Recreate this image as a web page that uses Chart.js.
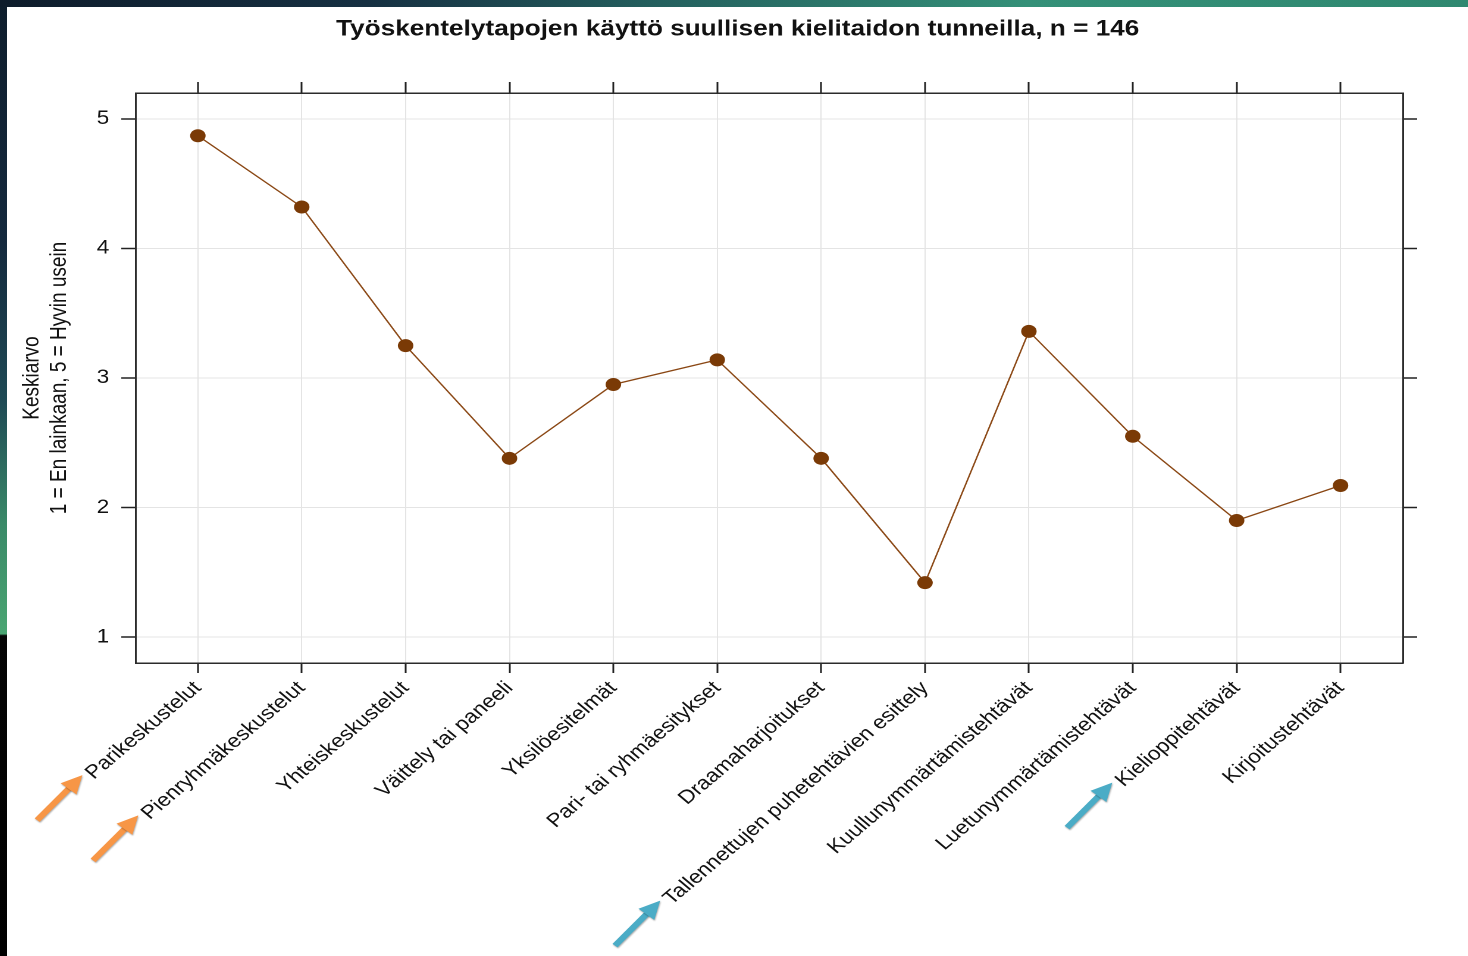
<!DOCTYPE html>
<html>
<head>
<meta charset="utf-8">
<script src="https://cdn.jsdelivr.net/npm/chart.js@4.4.1/dist/chart.umd.min.js"></script>
<style>
  body { margin: 0; width: 1468px; height: 956px; background: #000; position: relative; overflow: hidden; }
  .edge-left { position: absolute; left: 0; top: 0; width: 7px; height: 956px;
    background: linear-gradient(to bottom, #0e1d2c 0%, #14293d 25%, #1f4a55 42%, #3a8a68 55%, #4aa572 66.3%, #050505 66.5%, #000 100%); }
  .edge-top { position: absolute; left: 0; top: 0; width: 1468px; height: 7px;
    background: linear-gradient(to right, #0e1c2b 0%, #163042 25%, #24605e 45%, #349078 70%, #2f8870 100%); }
  .sheet { position: absolute; left: 7px; top: 7px; width: 1461px; height: 949px; background: #fff; overflow: hidden; }
  #chart { transform: scaleX(1.19); transform-origin: 0 0; }
</style>
</head>
<body>
<div class="edge-left"></div>
<div class="edge-top"></div>
<div class="sheet">
  <canvas id="chart" width="1228" height="949"></canvas>
</div>
<script>
// data
const categories = [
  'Parikeskustelut',
  'Pienryhmäkeskustelut',
  'Yhteiskeskustelut',
  'Väittely tai paneeli',
  'Yksilöesitelmät',
  'Pari- tai ryhmäesitykset',
  'Draamaharjoitukset',
  'Tallennettujen puhetehtävien esittely',
  'Kuullunymmärtämistehtävät',
  'Luetunymmärtämistehtävät',
  'Kielioppitehtävät',
  'Kirjoitustehtävät'
];
const means = [4.87, 4.32, 3.25, 2.38, 2.95, 3.14, 2.38, 1.42, 3.36, 2.55, 1.90, 2.17];
const yTicks = [1, 2, 3, 4, 5];
// labels that get an arrow in the picture, with its colour
const arrowIdx = [0, 1, 7, 10];
const arrowColors = ['#f79646', '#f79646', '#4bacc6', '#4bacc6'];

const titleText = 'Työskentelytapojen käyttö suullisen kielitaidon tunneilla, n = 146';
const yTitle = ['Keskiarvo', '1 = En lainkaan, 5 = Hyvin usein'];

Chart.defaults.font.family = '"Liberation Sans", Arial, Helvetica, sans-serif';

const xTickList = s => { s.ticks = categories.map((c, i) => ({ value: i + 1 })); };
const yTickList = s => { s.ticks = yTicks.map(v => ({ value: v })); };
const boxBorder = { color: '#2b2b2b', width: 1.5 };
const gridCol = '#e4e4e4';

const labelArrows = {
  id: 'labelArrows',
  afterDraw(chart) {
    const ctx = chart.ctx;
    const xs = chart.scales.x;
    const tickLen = xs.options.grid.tickLength;
    const pad = xs.options.ticks.padding;
    ctx.save();
    ctx.font = '19px "Liberation Sans", Arial, sans-serif';
    const c = Math.SQRT1_2;
    arrowIdx.forEach((idx, k) => {
      const w = ctx.measureText(categories[idx]).width;
      const px = xs.getPixelForValue(idx + 1) + 19 * 1.2 / 2 * c;
      const py = xs.top + tickLen + pad;
      // start of the rotated label
      const sx = px - w * c;
      const sy = py + w * c;
      const tipX = sx - 14, tipY = sy + 7;
      const tailX = tipX - 38, tailY = tipY + 45;
      const ang = Math.atan2(tipY - tailY, tipX - tailX);
      ctx.shadowColor = 'rgba(0,0,0,0.35)';
      ctx.shadowBlur = 3;
      ctx.shadowOffsetX = 1;
      ctx.shadowOffsetY = 2;
      ctx.strokeStyle = arrowColors[k];
      ctx.fillStyle = arrowColors[k];
      ctx.lineWidth = 5.5;
      ctx.beginPath();
      ctx.moveTo(tailX, tailY);
      ctx.lineTo(tipX - 12 * Math.cos(ang), tipY - 12 * Math.sin(ang));
      ctx.stroke();
      ctx.beginPath();
      ctx.moveTo(tipX, tipY);
      ctx.lineTo(tipX - 20 * Math.cos(ang - 0.45), tipY - 20 * Math.sin(ang - 0.45));
      ctx.lineTo(tipX - 20 * Math.cos(ang + 0.45), tipY - 20 * Math.sin(ang + 0.45));
      ctx.closePath();
      ctx.fill();
    });
    ctx.restore();
  }
};

new Chart(document.getElementById('chart'), {
  type: 'line',
  data: {
    datasets: [{
      data: means.map((v, i) => ({ x: i + 1, y: v })),
      borderColor: '#8a4714',
      borderWidth: 1.3,
      pointRadius: 6.5,
      pointBackgroundColor: '#7a3a06',
      pointBorderColor: '#7a3a06',
      pointBorderWidth: 0,
      tension: 0
    }]
  },
  options: {
    responsive: false,
    devicePixelRatio: 2,
    animation: false,
    layout: { padding: 0 },
    plugins: {
      legend: { display: false },
      tooltip: { enabled: false },
      title: {
        display: true,
        text: titleText,
        color: '#111',
        font: { size: 22, weight: 'bold' },
        padding: { top: 9, bottom: 0 }
      }
    },
    scales: {
      x: {
        type: 'linear', position: 'bottom', min: 0.4, max: 12.6,
        afterBuildTicks: xTickList,
        afterFit: s => { s.height = 293; },
        ticks: {
          autoSkip: false, minRotation: 45, maxRotation: 45, padding: 4,
          color: '#111', font: { size: 19 },
          callback: (v, i) => categories[i]
        },
        grid: { color: gridCol, lineWidth: 1, tickColor: '#222', tickWidth: 1.5, tickLength: 10 },
        border: boxBorder
      },
      x2: {
        type: 'linear', axis: 'x', position: 'top', min: 0.4, max: 12.6,
        afterBuildTicks: xTickList,
        afterFit: s => { s.height = 50.6; },
        ticks: { display: false },
        grid: { drawOnChartArea: false, tickColor: '#222', tickWidth: 1.5, tickLength: 11 },
        border: boxBorder
      },
      y: {
        type: 'linear', position: 'left', min: 0.8, max: 5.2,
        afterBuildTicks: yTickList,
        afterFit: s => { s.width = 108; },
        ticks: { padding: 10, color: '#111', font: { size: 19 } },
        grid: { color: gridCol, lineWidth: 1, tickColor: '#222', tickWidth: 1.5, tickLength: 12 },
        border: boxBorder,
        title: {
          display: true, text: yTitle, color: '#111',
          font: { size: 19 }, padding: { top: 10, bottom: 0 }
        }
      },
      y2: {
        type: 'linear', axis: 'y', position: 'right', min: 0.8, max: 5.2,
        afterBuildTicks: yTickList,
        afterFit: s => { s.width = 55; },
        ticks: { display: false },
        grid: { drawOnChartArea: false, tickColor: '#222', tickWidth: 1.5, tickLength: 12 },
        border: boxBorder
      }
    }
  },
  plugins: [labelArrows]
});
</script>
</body>
</html>
